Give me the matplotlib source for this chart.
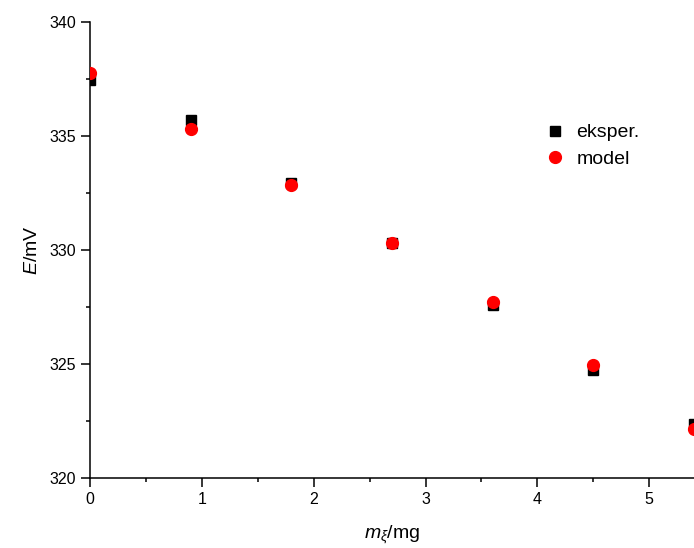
import matplotlib
matplotlib.use("Agg")
import matplotlib.pyplot as plt
from matplotlib.ticker import MultipleLocator

plt.rcParams['font.family'] = ['Liberation Sans', 'DejaVu Sans']
plt.rcParams['mathtext.fontset'] = 'custom'
plt.rcParams['mathtext.rm'] = 'Liberation Sans'
plt.rcParams['mathtext.it'] = 'Liberation Sans:italic'

# mass added (mg) and electrode potential (mV)
m = [0.0, 0.9, 1.8, 2.7, 3.6, 4.5, 5.4]
E_eksper = [337.45, 335.7, 332.95, 330.3, 327.6, 324.75, 322.35]
E_model = [337.75, 335.3, 332.85, 330.3, 327.7, 324.95, 322.15]

fig = plt.figure(figsize=(6.94, 5.48), dpi=100)
ax = fig.add_axes([90 / 694, 70 / 548, 1 - 90 / 694, 456 / 548])

ax.plot(m, E_eksper, 's', color='black', ms=7, label='eksper.', zorder=3)
ax.plot(m, E_model, 'o', color='red', ms=8.5, label='model', zorder=4)

ax.set_xlim(0, 5.4)
ax.set_ylim(320, 340)
ax.xaxis.set_major_locator(MultipleLocator(1))
ax.xaxis.set_minor_locator(MultipleLocator(0.5))
ax.yaxis.set_major_locator(MultipleLocator(5))
ax.yaxis.set_minor_locator(MultipleLocator(2.5))

for side in ['top', 'right']:
    ax.spines[side].set_visible(False)
for side in ['left', 'bottom']:
    ax.spines[side].set_linewidth(1.1)

ax.tick_params(which='major', direction='out', length=6.5, width=1.1, labelsize=11.5)
ax.tick_params(which='minor', direction='out', length=3, width=1.1)

ax.set_xlabel(r'$\mathit{m}_{\xi}$/mg', fontsize=14, labelpad=12)
ax.set_ylabel(r'$\mathit{E}$/mV', fontsize=14, labelpad=6)

ax.legend(loc='upper left', bbox_to_anchor=(0.725, 0.815), frameon=False,
          fontsize=14, handletextpad=0.6, handlelength=1.0,
          labelspacing=0.45)

fig.savefig('out.png', dpi=100)
